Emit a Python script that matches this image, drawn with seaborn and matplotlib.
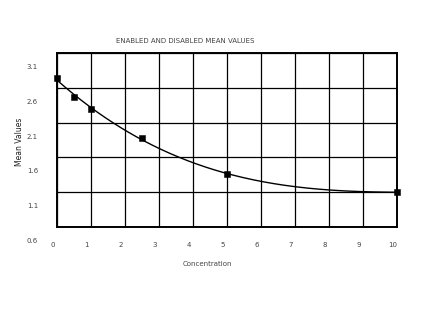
import numpy as np
import pandas as pd
import matplotlib
matplotlib.use("Agg")
import matplotlib.pyplot as plt
import seaborn as sns

concentration = [0, 0.5, 1, 2.5, 5, 10]
mean_values = [2.94, 2.67, 2.50, 2.08, 1.56, 1.30]
x_ticks = [0, 1, 2, 3, 4, 5, 6, 7, 8, 9, 10]
grid_y = [0.8, 1.3, 1.8, 2.3, 2.8, 3.3]
y_labels = [3.1, 2.6, 2.1, 1.6, 1.1, 0.6]
title = "ENABLED AND DISABLED MEAN VALUES"

sns.set_style("white")
plt.rcParams['font.family'] = ['DejaVu Sans']

fig = plt.figure(figsize=(4.29, 3.14), dpi=100)
ax = fig.add_axes([57/429, 1-227/314, 340/429, 174/314])

df = pd.DataFrame({"Concentration": concentration, "Mean Values": mean_values})
coef = np.polyfit(df["Concentration"], df["Mean Values"], 3)
xs = np.linspace(0, 10, 300)
curve = pd.DataFrame({"x": xs, "y": np.polyval(coef, xs)})

sns.lineplot(data=curve, x="x", y="y", ax=ax, color="black", lw=1.0, zorder=3)
sns.scatterplot(data=df, x="Concentration", y="Mean Values", ax=ax, marker="s",
                s=22, color="black", edgecolor="black", zorder=4, clip_on=False)

ax.set_xlim(0, 10)
ax.set_ylim(0.8, 3.3)
ax.set_xticks(x_ticks)
ax.set_yticks(grid_y)
ax.grid(True, color="black", lw=0.9)
ax.tick_params(length=0, labelleft=False, labelbottom=False)
for s in ax.spines.values():
    s.set_color("black")
    s.set_linewidth(1.4)
ax.set_xlabel("")
ax.set_ylabel("")

tc = "#444444"
for v in y_labels:
    ax.text(-0.72, v, f"{v:.1f}", ha="center", va="center", fontsize=5, color=tc, clip_on=False)
for v in x_ticks:
    ax.text(v - 0.12, 0.8 - 0.26, str(v), ha="center", va="center", fontsize=5, color=tc, clip_on=False)

fig.text(185/429, 1-41/314, title, ha="center", va="center", fontsize=5, color=tc)
fig.text(207/429, 1-264/314, "Concentration", ha="center", va="center", fontsize=5, color=tc)
fig.text(20/429, 1-142/314, "Mean Values", ha="center", va="center", fontsize=5.5,
         color="#222222", rotation=90)

fig.savefig("out.png", dpi=100, facecolor="white")
